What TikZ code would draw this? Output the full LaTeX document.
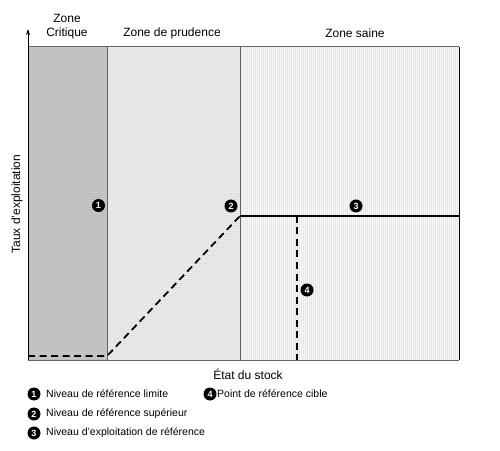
\documentclass[tikz,border=0pt]{standalone}
\usepackage{fontspec}
\setmainfont{Liberation Sans}
\usetikzlibrary{arrows.meta}
\definecolor{critfill}{RGB}{200,200,200}
\definecolor{critline}{RGB}{188,188,188}
\definecolor{prudfill}{RGB}{236,236,236}
\definecolor{prudline}{RGB}{224,224,224}
\definecolor{sainefill}{RGB}{248,248,248}
\definecolor{saineline}{RGB}{230,230,230}
\definecolor{framegray}{RGB}{100,100,100}
\tikzset{
  marker/.style={circle,fill=black,inner sep=0pt,minimum size=13pt,text=white,font=\fontsize{9}{9}\selectfont\bfseries},
  zonelabel/.style={font=\fontsize{12}{14}\selectfont,align=center},
  legendtext/.style={anchor=west,inner sep=0pt,font=\fontsize{10.5}{12}\selectfont},
  refdash/.style={line width=1.8pt,dash pattern=on 7pt off 4.5pt},
}
\begin{document}
\begin{tikzpicture}[x=1pt,y=1pt]
                \useasboundingbox (0,0) rectangle (500,450);
                % zones
                \fill[critfill] (28,90) rectangle (107,403);
                \fill[prudfill] (107,90) rectangle (240,403);
                \fill[sainefill] (240,90) rectangle (459,403);
                \foreach \y in {91,93,...,402} {
                        \draw[critline,line width=0.5pt] (28,\y) -- (107,\y);
                        \draw[prudline,line width=0.5pt] (107,\y) -- (240,\y);
                }
                \foreach \x in {241,243,...,458} {
                        \draw[saineline,line width=0.5pt] (\x,90) -- (\x,403);
                }

                \coordinate (o) at (28,90);
                \coordinate (top) at (28,421);
                \coordinate (br) at (459,90);
                \coordinate (tr) at (459,403);
                \coordinate (tl) at (28,403);
                \coordinate (critb) at (107,90);
                \coordinate (critt) at (107,403);
                \coordinate (prudb) at (240,90);
                \coordinate (prudt) at (240,403);

                \draw[framegray,line width=1pt] (o) -- (br);
                \draw[framegray,line width=1pt] (tl) -- (tr);
                \draw[black,line width=1pt] (br) -- (tr);
                \draw[framegray,line width=1pt] (critb) -- (critt);
                \draw[framegray,line width=1pt] (prudb) -- (prudt);
                \draw[black,line width=1pt,-{Stealth[length=6pt,width=4pt]}] (o) -- (top);

                % reference levels
                \coordinate (lim0) at (28,94);
                \coordinate (lim) at (107,94);
                \coordinate (sup) at (240,234);
                \coordinate (end) at (459,234);
                \coordinate (cib) at (297,234);
                \coordinate (cibb) at (297,90);
                \draw[refdash] (lim0) -- (lim) -- (sup);
                \draw[line width=1.8pt] (sup) -- (end);
                \draw[refdash] (cib) -- (cibb);

                \node[marker] (m1) at (98.5,244.5) {1};
                \node[marker] (m2) at (231,244) {2};
                \node[marker] (m3) at (356,244) {3};
                \node[marker] (m4) at (307,160) {4};

                % labels
                \node[zonelabel] (zc) at (67,423) {Zone\\Critique};
                \node[zonelabel] (zp) at (172,417) {Zone de prudence};
                \node[zonelabel] (zs) at (355,417) {Zone saine};
                \node[zonelabel,rotate=90] (ylab) at (17,246) {Taux d'exploitation};
                \node[zonelabel] (xlab) at (248,76) {État du stock};

                % legend
                \node[marker] (l1) at (34,56) {1};
                \node[legendtext] (t1) at (46,56) {Niveau de référence limite};
                \node[marker] (l4) at (210,56) {4};
                \node[legendtext] (t4) at (217,56) {Point de référence cible};
                \node[marker] (l2) at (34,36) {2};
                \node[legendtext] (t2) at (46,36) {Niveau de référence supérieur};
                \node[marker] (l3) at (34,17) {3};
                \node[legendtext] (t3) at (46,17) {Niveau d'exploitation de référence};
\end{tikzpicture}
\end{document}
